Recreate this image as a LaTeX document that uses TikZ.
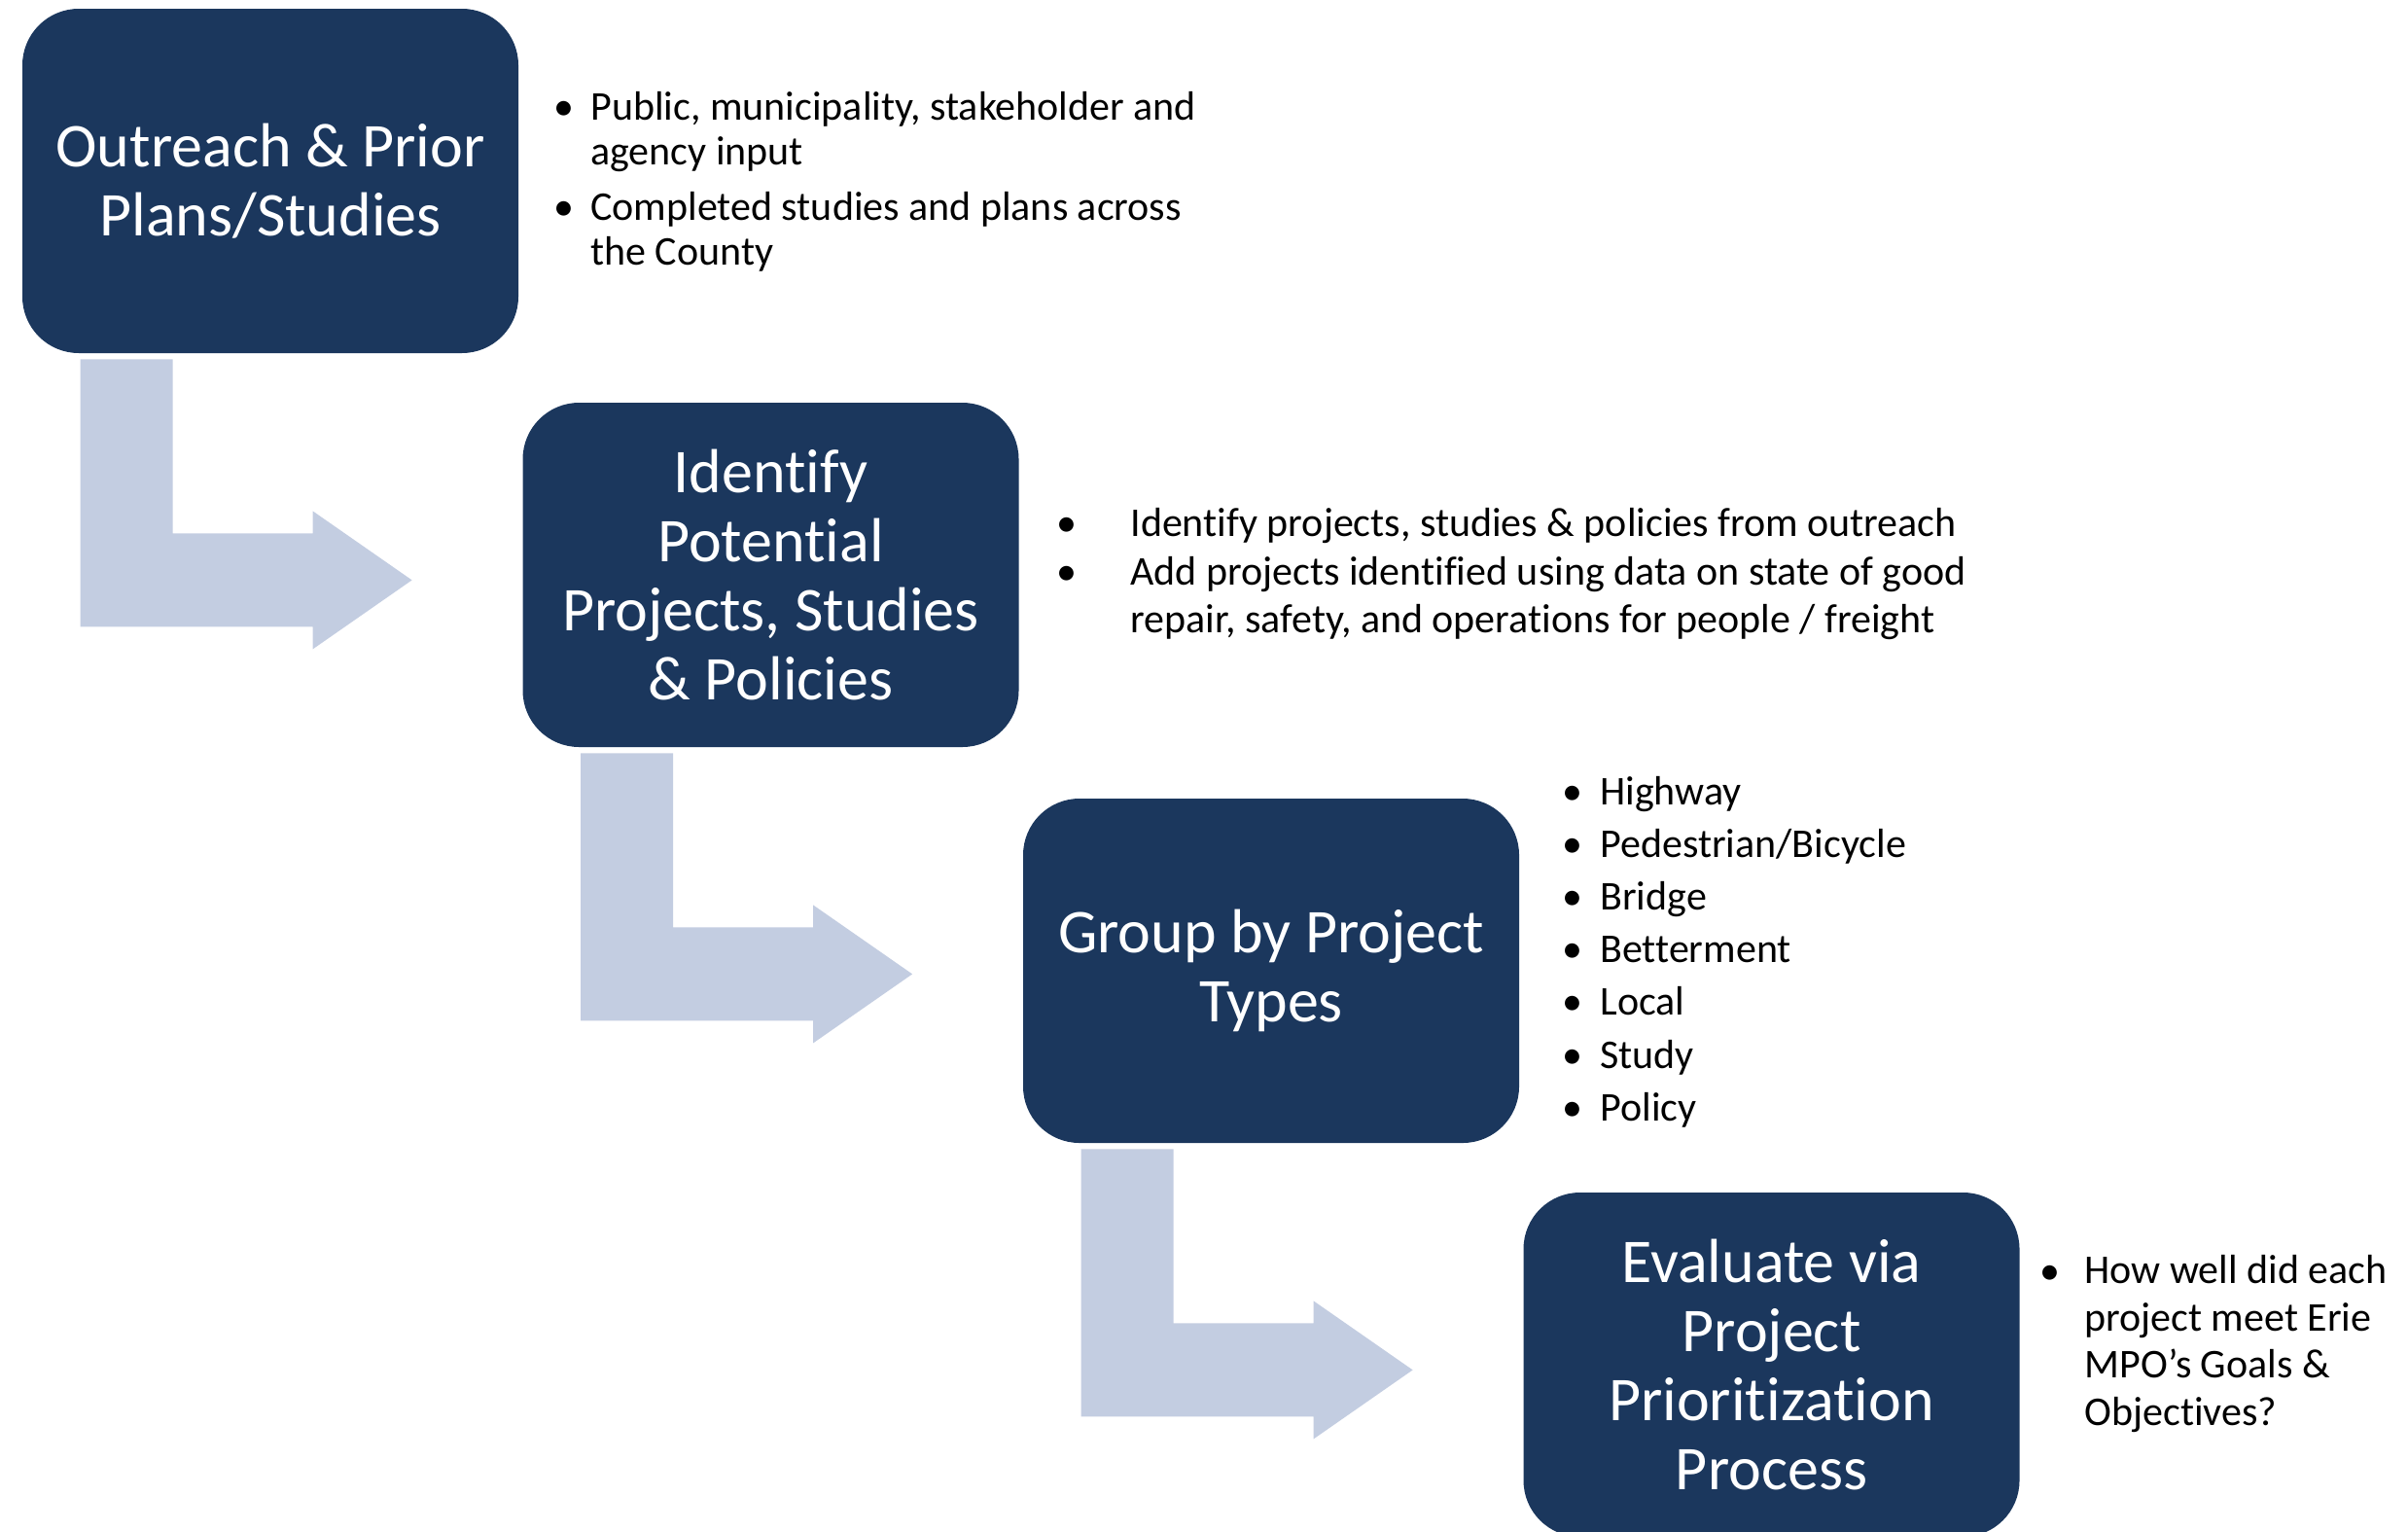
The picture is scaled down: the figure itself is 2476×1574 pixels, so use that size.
\documentclass[tikz,border=0pt]{standalone}
\usepackage{fontspec}
\setmainfont[Ligatures=NoCommon]{Carlito}
\definecolor{navy}{RGB}{27,55,93}
\definecolor{paleblue}{RGB}{195,205,225}

\tikzset{
  stage/.style={fill=navy, text=white, rounded corners=29pt, minimum width=255pt, minimum height=177pt, align=center, inner sep=0pt, font=\fontsize{32}{35.5}\selectfont},
  bent/.style={fill=paleblue},
  bul/.style={anchor=base, inner sep=0pt, font=\fontsize{21}{24}\selectfont},
  listtext/.style={anchor=base west, inner sep=0pt, align=left, font=\fontsize{21}{23}\selectfont},
}

\begin{document}
\begin{tikzpicture}[x=0.5pt, y=-0.5pt]
\useasboundingbox (0,0) rectangle (2476,1574);
\clip (0,0) rectangle (2476,1574);

\node[stage] (outreach) at (278,186) {Outreach \& Prior\\Plans/Studies};
\node[stage] (identify) at (792.5,591) {Identify\\Potential\\Projects, Studies\\\& Policies};
\node[stage] (group) at (1307,998) {Group by Project\\Types};
\node[stage] (evaluate) at (1821.5,1403) {Evaluate via\\Project\\Prioritization\\Process};

\foreach \s in {outreach,identify,group}
  \fill[bent] ([shift={(60,6)}]\s.south west) -- ++(95,0) -- ++(0,179) -- ++(144,0) -- ++(0,-23)
    -- ++(102,71) -- ++(-102,71) -- ++(0,-23) -- ++(-239,0) -- cycle;

% multi-line texts sit on their last line
\node[bul] (b1) at (580,123) {\textbullet};
\node[listtext] (t1) at (607,169) {Public, municipality, stakeholder and\\agency input};
\node[bul] (b2) at (580,226) {\textbullet};
\node[listtext] (t2) at (607,272) {Completed studies and plans across\\the County};

\node[bul] (b3) at (1097,551) {\textbullet};
\node[listtext] (t3) at (1162,551) {Identify projects, studies \& policies from outreach};
\node[bul] (b4) at (1097,601) {\textbullet};
\node[listtext, font=\fontsize{21}{24.75}\selectfont] (t4) at (1162,650.5) {Add projects identified using data on state of good\\repair, safety, and operations for people / freight};

\foreach \t [count=\i] in {Highway, Pedestrian/Bicycle, Bridge, Betterment, Local, Study, Policy} {
  \node[bul] (type\i b) at (1617,772.8+54.2*\i) {\textbullet};
  \node[listtext] (type\i) at (1645,772.8+54.2*\i) {\t};
}

\node[bul] (b5) at (2108,1320) {\textbullet};
\node[listtext, font=\fontsize{21}{24.2}\selectfont] (t5) at (2143,1465) {How well did each\\project meet Erie\\MPO’s Goals \&\\Objectives?};

\end{tikzpicture}
\end{document}
